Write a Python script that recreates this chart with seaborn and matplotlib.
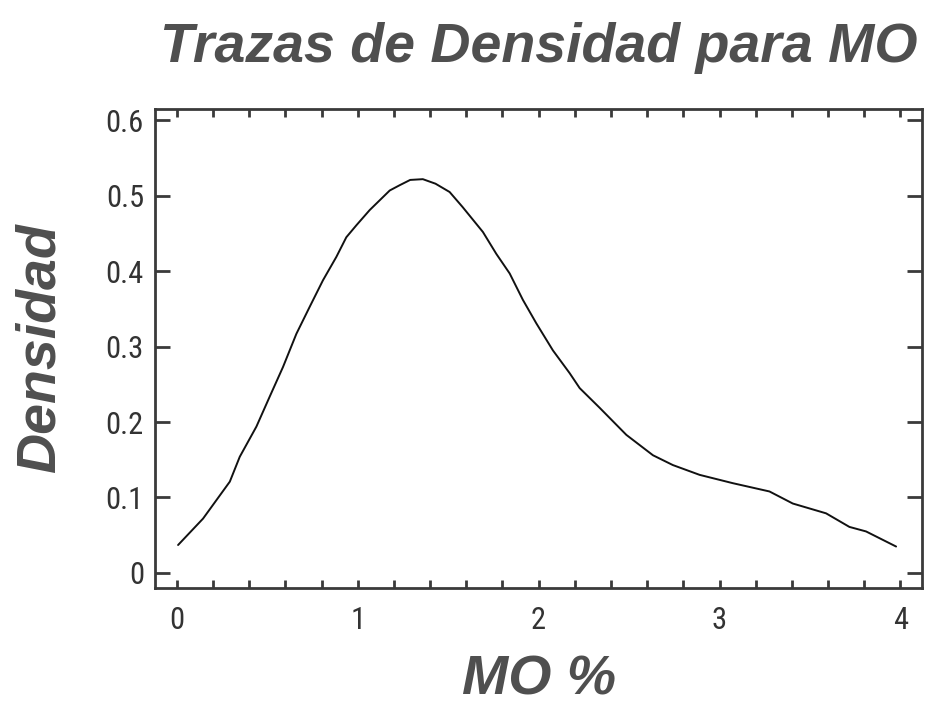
import numpy as np
import pandas as pd
import matplotlib
matplotlib.use("Agg")
import matplotlib.pyplot as plt
from matplotlib import font_manager
from matplotlib.ticker import MultipleLocator
import seaborn as sns

# --- DATA ---
MO_PCT = [0.007, 0.145, 0.293, 0.348, 0.44, 0.514, 0.587, 0.661, 0.735, 0.808,
          0.882, 0.937, 0.993, 1.066, 1.177, 1.232, 1.29, 1.36, 1.43, 1.508,
          1.58, 1.692, 1.766, 1.84, 1.913, 1.987, 2.079, 2.171, 2.227, 2.337,
          2.485, 2.632, 2.742, 2.890, 3.073, 3.276, 3.405, 3.589, 3.718, 3.81,
          3.976]
DENSIDAD = [0.037, 0.072, 0.121, 0.154, 0.194, 0.234, 0.273, 0.317, 0.353, 0.388,
            0.419, 0.445, 0.461, 0.481, 0.507, 0.514, 0.521, 0.522, 0.516, 0.505,
            0.485, 0.452, 0.423, 0.397, 0.362, 0.331, 0.295, 0.265, 0.245, 0.219,
            0.183, 0.156, 0.143, 0.130, 0.119, 0.108, 0.092, 0.079, 0.061, 0.055,
            0.035]
X_TICKS = [0, 1, 2, 3, 4]
Y_TICKS = [0, 0.1, 0.2, 0.3, 0.4, 0.5, 0.6]

TITLE = "Trazas de Densidad para MO"
XLABEL = "MO %"
YLABEL = "Densidad"

sns.set_style("white")
plt.rcParams["font.family"] = ["Liberation Sans", "DejaVu Sans"]

# narrow face for the tick numbers if one is installed
names = {f.name for f in font_manager.fontManager.ttflist}
TICK_FONT = "Liberation Sans"
for cand in ["Liberation Sans Narrow", "DejaVu Sans Condensed", "Roboto Condensed"]:
    if cand in names:
        TICK_FONT = cand
        break
print("tick font:", TICK_FONT)

LABEL_GRAY = "#4f4f4f"
AXIS_GRAY = "#3a3a3a"

df = pd.DataFrame({"MO": MO_PCT, "Densidad": DENSIDAD})

fig = plt.figure(figsize=(9.4, 7.07), dpi=100)
ax = fig.add_axes([0.165, 0.1683, 0.816, 0.6775])

sns.lineplot(data=df, x="MO", y="Densidad", color="#111111", linewidth=1.4, ax=ax)

ax.set_xlim(-0.12, 4.12)
ax.set_ylim(-0.02, 0.615)
ax.set_xticks(X_TICKS)
ax.set_yticks(Y_TICKS)
ax.set_yticklabels([f"{v:g}" for v in Y_TICKS])
ax.xaxis.set_minor_locator(MultipleLocator(0.2))

for s in ax.spines.values():
    s.set_color(AXIS_GRAY)
    s.set_linewidth(2)

ax.tick_params(axis="x", which="both", direction="in", top=True, bottom=True,
               length=6, width=2, color=AXIS_GRAY, labelsize=22,
               labelcolor="#333333", pad=13)
ax.tick_params(axis="y", which="major", direction="in", left=True, right=True,
               length=11, width=2, color=AXIS_GRAY, labelsize=22,
               labelcolor="#333333", pad=8)
for lab in ax.get_xticklabels() + ax.get_yticklabels():
    lab.set_fontfamily(TICK_FONT)

font_lbl = dict(fontsize=40, fontweight="bold", fontstyle="italic", color=LABEL_GRAY)
ax.set_title(TITLE, pad=34, **font_lbl)
ax.set_xlabel(XLABEL, labelpad=14, **font_lbl)
ax.set_ylabel(YLABEL, labelpad=28, **font_lbl)

fig.savefig("out.png", dpi=100)
